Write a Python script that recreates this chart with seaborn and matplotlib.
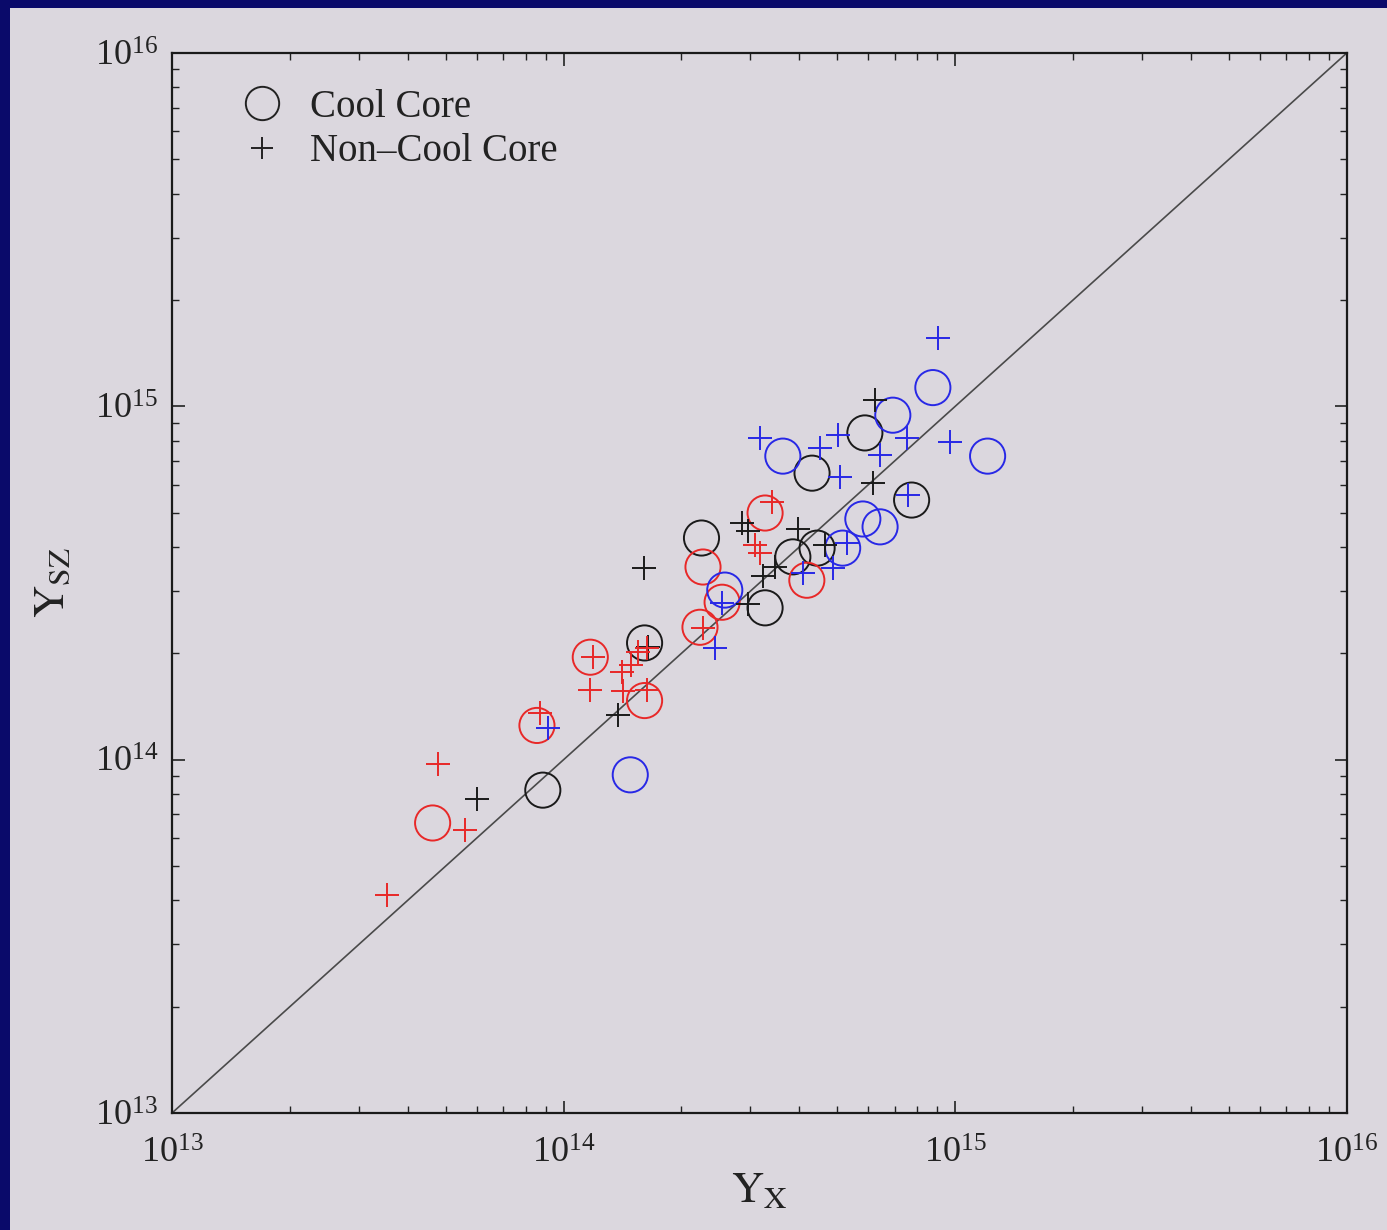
import numpy as np
import pandas as pd
import matplotlib
matplotlib.use("Agg")
import matplotlib.pyplot as plt
from matplotlib.lines import Line2D
from matplotlib.patches import Rectangle
import seaborn as sns

# Y_X vs Y_SZ for clusters, split by core type; colours mark sub-samples
cc_black_x = [8.85e13, 1.61e14, 2.25e14, 3.27e14, 3.85e14, 4.44e14, 4.31e14, 5.88e14, 7.74e14]
cc_black_y = [8.2e13, 2.14e14, 4.24e14, 2.69e14, 3.75e14, 3.97e14, 6.47e14, 8.41e14, 5.43e14]

cc_red_x = [4.63e13, 8.55e13, 1.17e14, 1.61e14, 2.27e14, 2.54e14, 2.23e14, 3.27e14, 4.18e14]
cc_red_y = [6.62e13, 1.25e14, 1.95e14, 1.47e14, 3.51e14, 2.79e14, 2.37e14, 4.99e14, 3.22e14]

cc_blue_x = [1.48e14, 2.58e14, 3.63e14, 6.93e14, 8.77e14, 1.21e15, 5.81e14, 6.43e14, 5.16e14]
cc_blue_y = [9.06e13, 3.02e14, 7.23e14, 9.44e14, 1.13e15, 7.23e14, 4.80e14, 4.56e14, 3.97e14]

ncc_black_x = [6.01e13, 1.38e14, 1.64e14, 1.60e14, 2.85e14, 2.96e14, 3.96e14, 3.23e14, 3.47e14,
               2.96e14, 4.65e14, 6.24e14, 6.17e14]
ncc_black_y = [7.74e13, 1.34e14, 2.08e14, 3.48e14, 4.68e14, 4.44e14, 4.50e14, 3.31e14, 3.51e14,
               2.76e14, 4.05e14, 1.04e15, 6.07e14]

ncc_red_x = [3.54e13, 4.78e13, 5.60e13, 8.71e13, 1.19e14, 1.17e14, 1.41e14, 1.49e14, 1.55e14,
             1.63e14, 1.42e14, 1.63e14, 3.40e14, 3.08e14, 3.17e14, 2.27e14]
ncc_red_y = [4.14e13, 9.73e13, 6.32e13, 1.36e14, 1.95e14, 1.57e14, 1.77e14, 1.85e14, 2.02e14,
             2.07e14, 1.56e14, 1.57e14, 5.36e14, 4.05e14, 3.85e14, 2.36e14]

ncc_blue_x = [9.04e14, 3.17e14, 4.51e14, 5.01e14, 6.43e14, 7.53e14, 9.68e14, 5.08e14, 7.57e14,
              5.28e14, 4.88e14, 4.08e14, 2.54e14, 2.43e14, 9.12e13]
ncc_blue_y = [1.56e15, 8.13e14, 7.62e14, 8.30e14, 7.28e14, 8.13e14, 7.93e14, 6.31e14, 5.61e14,
              4.10e14, 3.48e14, 3.37e14, 2.77e14, 2.07e14, 1.23e14]

axis_min, axis_max = 1e13, 1e16
legend_labels = ["Cool Core", "Non\u2013Cool Core"]

groups = [
    ("cool", "black", cc_black_x, cc_black_y),
    ("cool", "red", cc_red_x, cc_red_y),
    ("cool", "blue", cc_blue_x, cc_blue_y),
    ("noncool", "black", ncc_black_x, ncc_black_y),
    ("noncool", "red", ncc_red_x, ncc_red_y),
    ("noncool", "blue", ncc_blue_x, ncc_blue_y),
]
df = pd.concat(
    [pd.DataFrame({"Y_X": xs, "Y_SZ": ys, "core": core, "colour": col})
     for core, col, xs, ys in groups],
    ignore_index=True,
)

sns.set_theme(style="ticks")
plt.rcParams["font.family"] = ["Liberation Serif", "DejaVu Serif"]
plt.rcParams["mathtext.fontset"] = "stix"

bg = "#dbd7de"
fig = plt.figure(figsize=(13.87, 12.30), dpi=100, facecolor=bg)
ax = fig.add_axes([0.124, 0.0951, 0.847, 0.8618])
ax.set_facecolor(bg)

# navy slide frame on the left and top edges
fig.patches.append(Rectangle((0, 0), 0.0075, 1, transform=fig.transFigure,
                             facecolor="#0a0a6a", edgecolor="none", zorder=0))
fig.patches.append(Rectangle((0, 0.9935), 1, 0.0065, transform=fig.transFigure,
                             facecolor="#0a0a6a", edgecolor="none", zorder=0))

colour_map = {"black": "#1a1a1a", "red": "#e82828", "blue": "#2828e6"}

# one-to-one line
ax.plot([axis_min, axis_max], [axis_min, axis_max], color="#4a4a4a", lw=1.2, zorder=1)

for (core, col), sub in df.groupby(["core", "colour"], sort=False):
    c = colour_map[col]
    if core == "cool":
        sns.scatterplot(data=sub, x="Y_X", y="Y_SZ", ax=ax, marker="o", s=640,
                        facecolors="none", edgecolor=c, linewidth=1.4, zorder=3)
    else:
        sns.scatterplot(data=sub, x="Y_X", y="Y_SZ", ax=ax, marker="+", s=300,
                        color=c, linewidth=1.4, zorder=3)

for coll in ax.collections:
    if coll.get_paths() and len(coll.get_paths()[0].vertices) > 10:
        coll.set_facecolor("none")

ax.set_xscale("log")
ax.set_yscale("log")
ax.set_xlim(axis_min, axis_max)
ax.set_ylim(axis_min, axis_max)

ax.tick_params(which="both", direction="in", top=True, right=True, colors="#222222")
ax.tick_params(which="major", length=9, width=1.2, labelsize=26)
ax.tick_params(axis="x", which="major", pad=18)
ax.tick_params(axis="y", which="major", pad=10)
ax.tick_params(which="minor", length=5, width=1.0)
for sp in ax.spines.values():
    sp.set_linewidth(1.6)
    sp.set_color("#1a1a1a")

ax.set_xlabel(r"$\mathrm{Y}_{\mathrm{X}}$", fontsize=32, labelpad=0, color="#222222")
ax.set_ylabel(r"$\mathrm{Y}_{\mathrm{SZ}}$", fontsize=32, labelpad=16, color="#222222")

handles = [
    Line2D([], [], marker="o", ls="none", markersize=24, markerfacecolor="none",
           markeredgecolor="#222222", markeredgewidth=1.4),
    Line2D([], [], marker="+", ls="none", markersize=16, color="#222222",
           markeredgewidth=1.4),
]
ax.legend(handles, legend_labels, loc="upper left", bbox_to_anchor=(0.03, 0.9995),
          frameon=False, fontsize=28, handlelength=1.0, handletextpad=0.75,
          labelspacing=0.2, labelcolor="#222222")

fig.savefig("out.png", dpi=100, facecolor=bg)
